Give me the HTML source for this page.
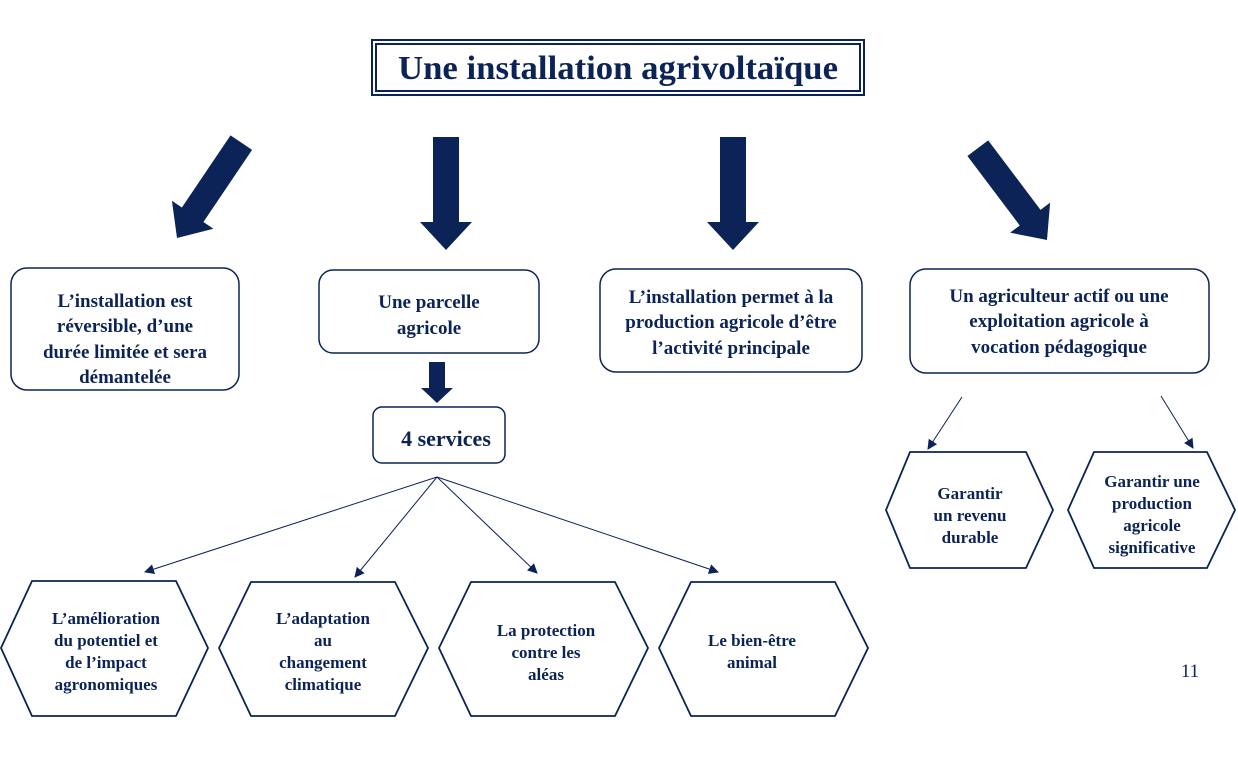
<!DOCTYPE html>
<html><head><meta charset="utf-8"><style>
body{margin:0;background:#fff}
svg{display:block}
text{font-family:"Liberation Serif",serif;font-weight:bold;fill:#0b2356;text-anchor:middle}
</style></head><body>
<svg width="1238" height="774" viewBox="0 0 1238 774" xmlns="http://www.w3.org/2000/svg">
<defs>
<marker id="ah" markerWidth="10" markerHeight="10" refX="9" refY="5" orient="auto" markerUnits="userSpaceOnUse">
<path d="M0,0 L10,5 L0,10 z" fill="#0b2356"/></marker>
<path id="ba" d="M-13,-115 L13,-115 L13,-28 L25,-28 L0,0 L-25,-28 L-13,-28 z" fill="#0b2356"/>
</defs>
<rect x="372" y="40" width="492" height="55" fill="#fff" stroke="#0b2356" stroke-width="2"/>
<rect x="376" y="44" width="484" height="47" fill="none" stroke="#0b2356" stroke-width="2"/>
<text x="618" y="79" font-size="34" textLength="440" lengthAdjust="spacingAndGlyphs">Une installation  agrivoltaïque</text>

<use href="#ba" transform="translate(177,238) rotate(34)"/>
<path d="M433,137 L459,137 L459,222 L472,222 L446,250 L420,222 L433,222 z" fill="#0b2356"/>
<path d="M720,137 L746,137 L746,222 L759,222 L733,250 L707,222 L720,222 z" fill="#0b2356"/>
<use href="#ba" transform="translate(1047,240) rotate(-37)"/>

<g fill="#fff" stroke="#0b2356" stroke-width="1.5">
<rect x="11" y="268" width="228" height="122" rx="16"/>
<rect x="319" y="270" width="220" height="83" rx="14"/>
<rect x="600" y="269" width="262" height="103" rx="16"/>
<rect x="910" y="269" width="299" height="104" rx="16"/>
<rect x="373" y="407" width="132" height="56" rx="9"/>
</g>
<g font-size="19">
<text x="125" y="307">L’installation est</text>
<text x="125" y="332">réversible, d’une</text>
<text x="125" y="358">durée limitée et sera</text>
<text x="125" y="383">démantelée</text>
<text x="429" y="308">Une parcelle</text>
<text x="429" y="334">agricole</text>
<text x="731" y="303">L’installation permet à la</text>
<text x="731" y="328">production agricole d’être</text>
<text x="731" y="354">l’activité principale</text>
<text x="1059" y="302">Un agriculteur actif ou une</text>
<text x="1059" y="327">exploitation agricole à</text>
<text x="1059" y="353">vocation pédagogique</text>
</g>
<text x="446" y="446" font-size="22">4 services</text>
<path d="M429,362 L445,362 L445,388 L453,388 L437,403 L421,388 L429,388 z" fill="#0b2356"/>

<g stroke="#0b2356" stroke-width="1" marker-end="url(#ah)">
<line x1="437" y1="477" x2="145" y2="572"/>
<line x1="437" y1="477" x2="355" y2="577"/>
<line x1="437" y1="477" x2="537" y2="573"/>
<line x1="437" y1="477" x2="718" y2="572"/>
<line x1="962" y1="397" x2="928" y2="449"/>
<line x1="1161" y1="396" x2="1193" y2="448"/>
</g>

<g fill="#fff" stroke="#0b2356" stroke-width="1.8">
<polygon points="1,648 32,581 176,581 208,648 176,716 32,716"/>
<polygon points="219,648 251,582 395,582 428,648 395,716 251,716"/>
<polygon points="439,648 471,582 615,582 648,648 615,716 471,716"/>
<polygon points="659,648 691,582 835,582 868,648 835,716 691,716"/>
<polygon points="886,510 910,452 1026,452 1053,510 1026,568 910,568"/>
<polygon points="1068,510 1094,452 1207,452 1235,510 1207,568 1094,568"/>
</g>
<g font-size="17">
<text x="106" y="624">L’amélioration</text>
<text x="106" y="646">du potentiel et</text>
<text x="106" y="668">de l’impact</text>
<text x="106" y="690">agronomiques</text>
<text x="323" y="624">L’adaptation</text>
<text x="323" y="646">au</text>
<text x="323" y="668">changement</text>
<text x="323" y="690">climatique</text>
<text x="546" y="636">La protection</text>
<text x="546" y="658">contre les</text>
<text x="546" y="680">aléas</text>
<text x="752" y="646">Le bien-être</text>
<text x="752" y="668">animal</text>
<text x="970" y="499">Garantir</text>
<text x="970" y="521">un revenu</text>
<text x="970" y="543">durable</text>
<text x="1152" y="487">Garantir une</text>
<text x="1152" y="509">production</text>
<text x="1152" y="531">agricole</text>
<text x="1152" y="553">significative</text>
</g>
<text x="1190" y="677" font-size="19" style="font-weight:normal">11</text>
</svg>
</body></html>
